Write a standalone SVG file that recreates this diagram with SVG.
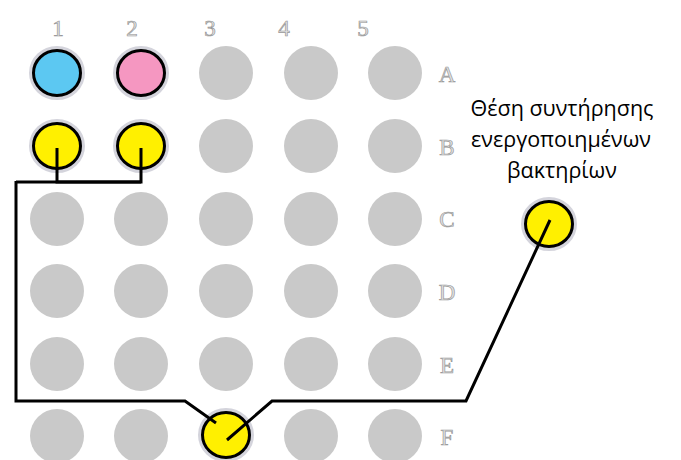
<svg xmlns="http://www.w3.org/2000/svg" width="681" height="460" viewBox="0 0 681 460">
<style>
.well{fill:#c9c9c9}
.sel{stroke:#000;stroke-width:3}
.halo{fill:none;stroke:#b8b8c4;stroke-width:6;opacity:0.6}
.lbl{font-family:"Liberation Serif","DejaVu Serif",serif;font-size:23px;fill:#e2e2e2;stroke:#999;stroke-width:0.7;text-anchor:middle}
.cap{font-family:"Open Sans","Noto Sans",sans-serif;font-size:21.5px;fill:#000;text-anchor:middle}
.wire{fill:none;stroke:#000;stroke-width:3;stroke-linejoin:miter}
</style>
<rect width="681" height="460" fill="#fff"/>
<g id="col-labels">
<text class="lbl" x="58" y="36">1</text>
<text class="lbl" x="132" y="36">2</text>
<text class="lbl" x="210" y="36">3</text>
<text class="lbl" x="284" y="36">4</text>
<text class="lbl" x="363" y="36">5</text>
</g>
<g id="row-labels">
<text class="lbl" x="447" y="82">A</text>
<text class="lbl" x="447" y="155">B</text>
<text class="lbl" x="447" y="227">C</text>
<text class="lbl" x="447" y="300">D</text>
<text class="lbl" x="447" y="373">E</text>
<text class="lbl" x="447" y="445">F</text>
</g>
<g id="wells">
<circle class="well" cx="226" cy="73" r="27"/><circle class="well" cx="311" cy="73" r="27"/><circle class="well" cx="395" cy="73" r="27"/>
<circle class="well" cx="226" cy="146" r="27"/><circle class="well" cx="311" cy="146" r="27"/><circle class="well" cx="395" cy="146" r="27"/>
<circle class="well" cx="57" cy="219" r="27"/><circle class="well" cx="141" cy="219" r="27"/><circle class="well" cx="226" cy="219" r="27"/><circle class="well" cx="311" cy="219" r="27"/><circle class="well" cx="395" cy="219" r="27"/>
<circle class="well" cx="57" cy="291" r="27"/><circle class="well" cx="141" cy="291" r="27"/><circle class="well" cx="226" cy="291" r="27"/><circle class="well" cx="311" cy="291" r="27"/><circle class="well" cx="395" cy="291" r="27"/>
<circle class="well" cx="57" cy="364" r="27"/><circle class="well" cx="141" cy="364" r="27"/><circle class="well" cx="226" cy="364" r="27"/><circle class="well" cx="311" cy="364" r="27"/><circle class="well" cx="395" cy="364" r="27"/>
<circle class="well" cx="57" cy="436" r="27"/><circle class="well" cx="141" cy="436" r="27"/><circle class="well" cx="311" cy="436" r="27"/><circle class="well" cx="395" cy="436" r="27"/>
</g>
<g id="A1"><ellipse class="halo" cx="57" cy="73" rx="25" ry="24"/><ellipse class="sel" cx="57" cy="73" rx="23.5" ry="22.5" fill="#5cc8f2"/></g>
<g id="A2"><ellipse class="halo" cx="141" cy="73" rx="25" ry="24"/><ellipse class="sel" cx="141" cy="73" rx="23.5" ry="22.5" fill="#f597c1"/></g>
<g id="B1"><ellipse class="halo" cx="57" cy="146" rx="25" ry="24"/><ellipse class="sel" cx="57" cy="146" rx="23.5" ry="22.5" fill="#fff000"/></g>
<g id="B2"><ellipse class="halo" cx="141" cy="146" rx="25" ry="24"/><ellipse class="sel" cx="141" cy="146" rx="23.5" ry="22.5" fill="#fff000"/></g>
<g id="F3"><ellipse class="halo" cx="226" cy="435" rx="25" ry="24"/><ellipse class="sel" cx="226" cy="435" rx="23.5" ry="22.5" fill="#fff000"/></g>
<g id="storage"><ellipse class="halo" cx="549" cy="224" rx="25" ry="24"/><ellipse class="sel" cx="549" cy="224" rx="23.5" ry="22.5" fill="#fff000"/>
<text class="cap" x="562" y="116">Θέση συντήρησης</text>
<text class="cap" x="561" y="147">ενεργοποιημένων</text>
<text class="cap" x="562" y="178">βακτηρίων</text>
</g>
<g id="connectors">
<polyline class="wire" points="57,148 57,182 141,182 141,148"/>
<polyline class="wire" points="16,182 141,182"/>
<polyline class="wire" points="16,181 16,401 185,401 216,423"/>
<polyline class="wire" points="227,440 272,401 466,401 550,220"/>
</g>
</svg>
